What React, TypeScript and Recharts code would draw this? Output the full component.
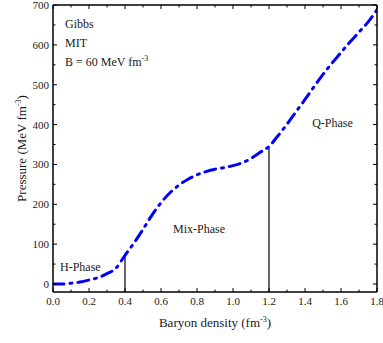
import * as React from 'react';
import { LineChart, Line, XAxis, YAxis, ReferenceLine, ReferenceDot } from 'recharts';

// baryon density (fm^-3) vs pressure (MeV fm^-3)
const density = [0, 0.05, 0.1, 0.15, 0.2, 0.25, 0.3, 0.35, 0.4, 0.45, 0.5, 0.55, 0.6, 0.65, 0.7, 0.75, 0.8, 0.85, 0.9, 0.95, 1.0, 1.05, 1.1, 1.15, 1.2, 1.25, 1.3, 1.35, 1.4, 1.45, 1.5, 1.55, 1.6, 1.65, 1.7, 1.75, 1.8];
const pressure = [0, 0, 2, 5, 10, 16, 26, 40, 72, 103, 137, 173, 204, 229, 248, 263, 274, 282, 288, 292, 297, 304, 315, 330, 345, 372, 401, 432, 463, 495, 526, 554, 581, 607, 632, 657, 688];

// phase boundaries
const boundaryX = [0.4, 1.2];
const boundaryTop = [68, 341];

const xTicks = [0, 0.1, 0.2, 0.3, 0.4, 0.5, 0.6, 0.7, 0.8, 0.9, 1.0, 1.1, 1.2, 1.3, 1.4, 1.5, 1.6, 1.7, 1.8];
const yTicks = [0, 50, 100, 150, 200, 250, 300, 350, 400, 450, 500, 550, 600, 650, 700];

const data = density.map((d, i) => ({ x: d, p: pressure[i] }));

const FONT = '"Liberation Serif", "Times New Roman", serif';
const INK = '#1a1a1a';
const FRAME = { stroke: '#000', strokeWidth: 1.5 };

const BottomTick = (props: any) => {
  const { x, y, payload } = props;
  const v = payload.value;
  const major = Math.round(v * 10) % 2 === 0;
  return (
    <g>
      <line x1={x} x2={x} y1={y} y2={y - (major ? 4 : 2.5)} stroke="#000" />
      {major && (
        <text x={x} y={y + 13} textAnchor="middle" fontFamily={FONT} fontSize={11} fill={INK}>
          {v.toFixed(1)}
        </text>
      )}
    </g>
  );
};

const TopTick = (props: any) => {
  const { x, y, payload } = props;
  const major = Math.round(payload.value * 10) % 2 === 0;
  return <line x1={x} x2={x} y1={y} y2={y + (major ? 4 : 2.5)} stroke="#000" />;
};

const LeftTick = (props: any) => {
  const { x, y, payload } = props;
  const v = payload.value;
  const major = v % 100 === 0;
  return (
    <g>
      <line x1={x} x2={x + (major ? 4 : 2.5)} y1={y} y2={y} stroke="#000" />
      {major && (
        <text x={x - 4} y={y + 4} textAnchor="end" fontFamily={FONT} fontSize={11} fill={INK}>
          {v}
        </text>
      )}
    </g>
  );
};

const RightTick = (props: any) => {
  const { x, y, payload } = props;
  const major = payload.value % 100 === 0;
  return <line x1={x} x2={x - (major ? 4 : 2.5)} y1={y} y2={y} stroke="#000" />;
};

const XTitle = (props: any) => {
  const { viewBox } = props;
  const cx = viewBox.x + viewBox.width / 2;
  return (
    <text x={cx} y={viewBox.y + 35} textAnchor="middle" fontFamily={FONT} fontSize={13} fill={INK}>
      Baryon density (fm<tspan dy={-5} fontSize={8}>-3</tspan>
      <tspan dy={5}>)</tspan>
    </text>
  );
};

const YTitle = (props: any) => {
  const { viewBox } = props;
  const cy = viewBox.y + viewBox.height / 2;
  const cx = 22;
  return (
    <text x={cx} y={cy} textAnchor="middle" fontFamily={FONT} fontSize={13} fill={INK} transform={`rotate(-90 ${cx} ${cy})`} dy={4}>
      Pressure (MeV fm<tspan dy={-5} fontSize={8}>-3</tspan>
      <tspan dy={5}>)</tspan>
    </text>
  );
};

const note = (text: React.ReactNode) => (props: any) => {
  const { viewBox } = props;
  return (
    <text x={viewBox.x} y={viewBox.y} fontFamily={FONT} fontSize={12} fill={INK}>
      {text}
    </text>
  );
};

const annotations: { x: number; y: number; text: React.ReactNode }[] = [
  { x: 0.067, y: 642, text: 'Gibbs' },
  { x: 0.067, y: 595, text: 'MIT' },
  {
    x: 0.067,
    y: 547,
    text: (
      <>
        B = 60 MeV fm<tspan dy={-5} fontSize={8}>-3</tspan>
      </>
    ),
  },
  { x: 0.039, y: 33, text: 'H-Phase' },
  { x: 0.667, y: 128, text: 'Mix-Phase' },
  { x: 1.44, y: 394, text: 'Q-Phase' },
];

export default function App() {
  return (
    <div style={{ position: 'absolute', left: 0, top: 0, width: 383, height: 343 }}>
      <LineChart
        width={383}
        height={343}
        data={data}
        margin={{ top: 4, right: 5, left: 0, bottom: 0 }}
        style={{ overflow: 'visible' }}
      >
        <XAxis
          dataKey="x"
          type="number"
          domain={[0, 1.8]}
          ticks={xTicks}
          interval={0}
          tickSize={0}
          tickMargin={0}
          tickLine={false}
          tick={<BottomTick />}
          height={51}
          axisLine={FRAME}
          allowDataOverflow
          label={{ content: <XTitle /> }}
        />
        <XAxis
          xAxisId="top"
          orientation="top"
          dataKey="x"
          type="number"
          domain={[0, 1.8]}
          ticks={xTicks}
          interval={0}
          tickSize={0}
          tickMargin={0}
          tickLine={false}
          tick={<TopTick />}
          height={1}
          axisLine={FRAME}
          allowDataOverflow
        />
        <YAxis
          type="number"
          domain={[-20, 700]}
          ticks={yTicks}
          interval={0}
          tickSize={0}
          tickMargin={0}
          tickLine={false}
          tick={<LeftTick />}
          width={53}
          axisLine={FRAME}
          allowDataOverflow
          label={{ content: <YTitle /> }}
        />
        <YAxis
          yAxisId="right"
          orientation="right"
          type="number"
          domain={[-20, 700]}
          ticks={yTicks}
          interval={0}
          tickSize={0}
          tickMargin={0}
          tickLine={false}
          tick={<RightTick />}
          width={1}
          axisLine={FRAME}
          allowDataOverflow
        />
        {boundaryX.map((bx, i) => (
          <ReferenceLine
            key={bx}
            segment={[{ x: bx, y: -20 }, { x: bx, y: boundaryTop[i] }]}
            stroke="#000"
            strokeWidth={1.2}
          />
        ))}
        {/* invisible copy so the mirrored frame axes get drawn */}
        <Line
          xAxisId="top"
          yAxisId="right"
          dataKey="p"
          stroke="none"
          dot={false}
          activeDot={false}
          isAnimationActive={false}
        />
        <Line
          type="monotone"
          dataKey="p"
          stroke="#0000ff"
          strokeWidth={3}
          strokeDasharray="11 6 2 6"
          strokeLinecap="round"
          dot={false}
          isAnimationActive={false}
        />
        {annotations.map((a, i) => (
          <ReferenceDot key={i} x={a.x} y={a.y} r={0} fill="none" stroke="none" ifOverflow="visible" label={{ content: note(a.text) }} />
        ))}
      </LineChart>
    </div>
  );
}
